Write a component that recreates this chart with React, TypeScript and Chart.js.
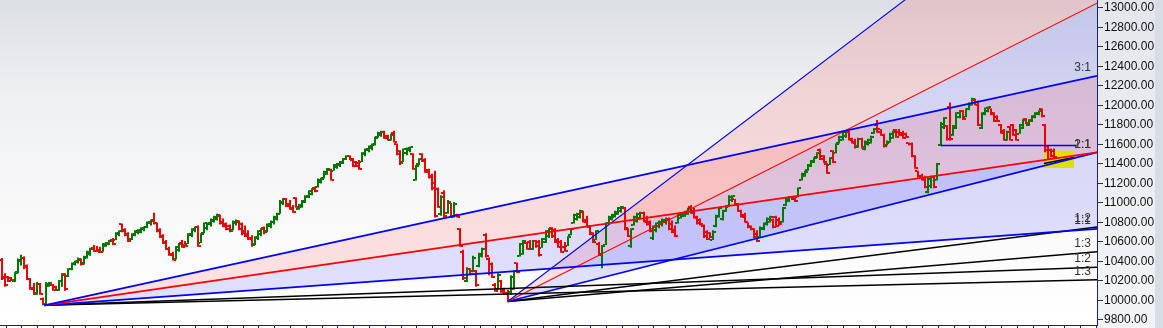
import React, { useEffect, useRef } from "react";
import { Chart, registerables } from "chart.js";

Chart.register(...registerables);

// ---- OHLC data (one entry per trading day) ----
const OPEN = [10420,10240,10240,10230,10200,10290,10410,10440,10350,10220,10130,10070,10170,10020,9960,10150,10160,10140,10110,10200,10260,10250,10320,10370,10390,10420,10380,10440,10480,10540,10510,10520,10500,10560,10580,10620,10620,10680,10780,10720,10680,10630,10670,10700,10700,10730,10750,10790,10830,10790,10720,10660,10600,10530,10480,10430,10520,10590,10570,10580,10670,10720,10750,10590,10690,10740,10780,10820,10840,10870,10800,10780,10760,10720,10790,10810,10780,10710,10680,10640,10580,10640,10680,10740,10710,10760,10800,10840,10890,11000,11040,10990,10950,11050,10940,10960,11010,11060,11090,11150,11160,11220,11260,11300,11340,11330,11370,11390,11410,11450,11480,11440,11420,11410,11420,11500,11540,11560,11590,11680,11700,11730,11690,11650,11720,11600,11530,11420,11510,11540,11500,11240,11400,11500,11440,11340,11280,11200,11140,10890,11100,10900,11000,10860,10880,10730,10500,10200,10320,10300,10300,10350,10460,10670,10430,10370,10160,10120,10200,10110,10080,10090,10120,10380,10460,10480,10590,10600,10530,10610,10600,10540,10600,10660,10740,10720,10620,10600,10550,10560,10670,10790,10840,10860,10910,10830,10750,10690,10620,10580,10470,10570,10790,10840,10860,10890,10920,10950,10730,10560,10770,10820,10850,10900,10820,10800,10640,10720,10760,10780,10800,10840,10780,10720,10790,10850,10870,10890,10960,10920,10860,10830,10760,10700,10690,10620,10760,10860,10840,10920,10960,11030,11040,10990,10920,10880,10800,10760,10730,10680,10650,10730,10780,10810,10830,10860,10830,10800,10980,11020,11060,11050,11060,11240,11280,11340,11380,11420,11470,11540,11480,11400,11390,11530,11510,11620,11650,11690,11730,11660,11630,11580,11660,11550,11600,11620,11720,11800,11760,11700,11590,11620,11670,11750,11730,11720,11710,11620,11610,11480,11330,11280,11260,11110,11170,11270,11240,11590,11780,11790,11980,11700,11770,11880,11940,11880,11960,12010,12060,12040,11770,11910,11940,11970,11920,11880,11800,11740,11650,11780,11800,11750,11710,11770,11860,11800,11840,11880,11910,11960,11800,11580,11540,11530];
const HIGH = [10435,10280,10250,10240,10290,10430,10470,10450,10370,10230,10180,10190,10180,10030,10190,10190,10170,10150,10210,10280,10280,10330,10390,10410,10440,10430,10460,10510,10540,10570,10560,10550,10590,10600,10620,10640,10700,10720,10790,10740,10700,10690,10720,10730,10750,10760,10810,10830,10900,10800,10740,10680,10620,10550,10500,10560,10590,10620,10610,10690,10740,10760,10770,10690,10800,10800,10840,10870,10890,10880,10840,10800,10780,10820,10830,10820,10800,10770,10720,10670,10660,10720,10740,10760,10790,10820,10870,10900,11030,11050,11050,11030,10980,11060,10990,11030,11080,11130,11150,11170,11250,11260,11330,11360,11350,11400,11410,11430,11460,11490,11490,11460,11430,11440,11520,11560,11590,11610,11680,11730,11740,11740,11700,11710,11740,11610,11540,11560,11570,11580,11510,11390,11460,11510,11460,11350,11300,11330,11160,11080,11130,11030,11000,11010,10890,10740,10520,10340,10330,10460,10313,10490,10540,10690,10440,10390,10180,10280,10210,10130,10110,10260,10310,10390,10590,10620,10600,10620,10620,10620,10620,10640,10720,10740,10750,10740,10640,10620,10600,10660,10740,10890,10900,10930,10920,10870,10770,10700,10720,10600,10570,10800,10870,10890,10920,10960,10970,10960,10740,10740,10870,10900,10910,10910,10870,10820,10770,10800,10820,10840,10850,10850,10820,10770,10890,10900,10920,10950,10980,10950,10870,10840,10780,10720,10700,10720,10880,10960,10930,10980,11080,11080,11040,11000,10930,10900,10800,10770,10740,10720,10760,10800,10850,10870,10840,10870,10850,10960,11050,11070,11070,11060,11160,11310,11330,11400,11440,11470,11520,11560,11490,11410,11470,11540,11610,11690,11740,11740,11740,11670,11660,11670,11670,11640,11660,11690,11770,11850,11760,11710,11640,11720,11740,11760,11760,11740,11720,11620,11620,11490,11330,11300,11280,11260,11280,11280,11410,11830,11880,11800,12030,11800,11930,11950,11950,11970,12030,12080,12070,12050,11930,11980,11990,11970,11930,11900,11810,11760,11740,11790,11810,11760,11810,11860,11870,11860,11900,11930,11950,11970,11810,11590,11560,11560];
const LOW = [10210,10140,10190,10200,10190,10280,10360,10320,10210,10110,10060,10060,10060,9950,9950,10140,10100,10100,10100,10140,10100,10240,10310,10360,10380,10360,10370,10430,10460,10500,10500,10490,10500,10550,10570,10570,10620,10660,10700,10660,10600,10620,10660,10680,10690,10710,10740,10770,10780,10700,10640,10580,10520,10460,10410,10420,10500,10540,10550,10580,10650,10700,10550,10590,10690,10720,10760,10800,10820,10780,10750,10720,10700,10720,10770,10720,10670,10650,10620,10550,10570,10620,10660,10680,10700,10740,10780,10820,10890,10980,10960,10930,10900,10950,10930,10950,11000,11050,11080,11110,11160,11200,11250,11290,11230,11330,11350,11370,11400,11440,11440,11370,11370,11340,11420,11480,11520,11540,11590,11670,11680,11660,11640,11640,11620,11490,11390,11420,11490,11520,11340,11230,11390,11420,11310,11250,11130,10850,10950,10870,10850,10890,10850,10850,10850,10550,10210,10190,10260,10290,10140,10340,10440,10440,10260,10230,10090,10110,10080,10060,9990,10060,10110,10280,10450,10470,10520,10520,10520,10540,10450,10540,10590,10640,10640,10590,10540,10490,10500,10560,10670,10790,10820,10840,10800,10750,10670,10590,10620,10460,10330,10570,10790,10820,10850,10880,10900,10720,10650,10540,10770,10800,10830,10800,10770,10700,10620,10700,10740,10760,10780,10720,10690,10650,10790,10840,10860,10880,10890,10840,10780,10770,10640,10620,10640,10620,10750,10850,10820,10910,10960,11010,10970,10910,10850,10800,10740,10720,10640,10600,10650,10720,10770,10800,10740,10750,10770,10800,10970,11010,11030,11010,11060,11230,11270,11330,11370,11410,11460,11440,11410,11300,11390,11410,11510,11610,11640,11670,11640,11610,11560,11570,11560,11540,11590,11610,11710,11720,11690,11570,11590,11620,11660,11670,11690,11660,11670,11590,11470,11350,11260,11230,11150,11100,11150,11150,11230,11590,11760,11640,11640,11690,11760,11870,11850,11880,11950,12000,12000,11790,11760,11900,11930,11900,11830,11830,11710,11640,11640,11640,11690,11640,11710,11760,11810,11790,11830,11870,11900,11880,11520,11440,11470,11460];
const CLOSE = [10230,10160,10200,10210,10280,10420,10440,10340,10220,10120,10080,10170,10070,9960,10170,10180,10110,10110,10200,10270,10120,10320,10380,10400,10430,10370,10450,10500,10530,10510,10500,10500,10580,10590,10610,10580,10690,10710,10710,10670,10610,10680,10710,10720,10740,10750,10800,10820,10790,10710,10650,10590,10530,10470,10420,10550,10580,10550,10560,10680,10730,10750,10560,10680,10790,10790,10830,10860,10880,10790,10760,10730,10710,10810,10820,10730,10690,10660,10630,10570,10650,10710,10730,10700,10780,10810,10860,10890,11010,11040,10970,10940,10910,10960,10980,11020,11070,11120,11140,11120,11240,11250,11320,11350,11240,11390,11400,11420,11450,11480,11450,11380,11380,11350,11510,11550,11580,11600,11670,11720,11730,11670,11650,11700,11630,11500,11410,11550,11560,11570,11350,11380,11450,11430,11320,11270,11150,10870,10960,11060,10870,11010,10870,10990,10860,10560,10230,10320,10270,10440,10160,10480,10530,10460,10280,10240,10100,10260,10090,10070,10010,10240,10300,10290,10580,10610,10530,10530,10610,10560,10470,10630,10710,10730,10660,10600,10550,10500,10510,10650,10730,10880,10890,10920,10810,10760,10680,10600,10710,10480,10560,10790,10860,10880,10910,10950,10960,10740,10660,10730,10860,10890,10900,10810,10780,10710,10760,10790,10810,10830,10840,10730,10700,10660,10880,10890,10910,10940,10900,10850,10790,10780,10660,10630,10650,10700,10870,10950,10920,10970,11060,11070,10980,10920,10860,10810,10750,10730,10650,10610,10740,10790,10840,10860,10750,10760,10780,10950,11040,11060,11040,11020,11150,11300,11320,11390,11430,11460,11510,11450,11420,11310,11460,11420,11600,11680,11730,11730,11650,11620,11570,11660,11570,11630,11650,11680,11760,11730,11700,11580,11630,11710,11730,11680,11700,11670,11680,11600,11480,11360,11270,11240,11160,11250,11270,11160,11400,11810,11870,11660,11660,11790,11920,11940,11860,11960,12020,12070,12010,11800,11920,11970,11980,11910,11840,11840,11720,11650,11730,11650,11700,11650,11800,11850,11820,11850,11890,11920,11940,11890,11540,11450,11480,11470];

// ---- axes ----
const Y_MIN = 9748.7;
const Y_MAX = 13082;
const Y_TICKS = [9800, 10000, 10200, 10400, 10600, 10800, 11000, 11200, 11400, 11600, 11800, 12000, 12200, 12400, 12600, 12800, 13000];
const X_MIN = -0.633;
const X_MAX = 346.5;
const X_TICK_START = 1.3;
const X_TICK_STEP = 5;

// ---- Gann fans: origin and end value at the right edge (X_MAX) ----
const FAN_A_ORIGIN = { x: 13.4, y: 9950 };
const FAN_A_LABELS = ["3:1", "2:1", "1:1", "1:2", "1:3"];
const FAN_A_ENDS = [12303, 11519, 10734, 10342, 10212];
const FAN_B_ORIGIN = { x: 160, y: 9990 };
const FAN_B_LABELS = ["3:1", "2:1", "1:1", "1:2", "1:3"];
const FAN_B_ENDS = [14578, 13049, 11519, 10755, 10500];

// support line and highlighted box
const SUPPORT_X = [297, 340];
const SUPPORT_Y = 11590;
const BOX_X = [329.7, 339.2];
const BOX_Y = [11359, 11536];
const BOX_LINE_Y = [11406, 11467];

const PINK = "rgba(255,0,0,0.115)";
const LAV = "rgba(0,0,255,0.115)";
const FAN_COLORS = ["#0000ff", "#ff0000", "#0000ff", "#000000", "#000000"];

function fanDatasets(origin: { x: number; y: number }, ends: number[], widths: number[]) {
  return ends.map((e, k) => ({
    type: "line" as const,
    data: [
      { x: origin.x, y: origin.y },
      { x: X_MAX, y: e },
    ],
    borderColor: FAN_COLORS[k],
    borderWidth: widths[k],
    pointRadius: 0,
    tension: 0,
    fill: k === 0 || k === 1 ? "+1" : false,
    backgroundColor: k === 0 ? PINK : k === 1 ? LAV : "transparent",
  }));
}

const bgPlugin = {
  id: "bgPaint",
  beforeDraw(chart: any) {
    const { ctx, chartArea: a, width, height } = chart;
    ctx.save();
    ctx.fillStyle = "#ffffff";
    ctx.fillRect(0, 0, width, height);
    const g = ctx.createLinearGradient(0, a.top, 0, a.bottom);
    g.addColorStop(0, "#dcdfe4");
    g.addColorStop(0.3, "#eff0f2");
    g.addColorStop(0.7, "#fafafb");
    g.addColorStop(1, "#ffffff");
    ctx.fillStyle = g;
    ctx.fillRect(a.left, a.top, a.right - a.left, a.bottom - a.top);
    const g2 = ctx.createLinearGradient(0, 0, 0, height);
    g2.addColorStop(0, "#e3e6eb");
    g2.addColorStop(1, "#f3f4f6");
    ctx.fillStyle = g2;
    ctx.fillRect(a.right, 0, width - a.right, height);
    ctx.fillStyle = "#d8dde5";
    ctx.fillRect(width - 8, 0, 8, height);
    ctx.restore();
  },
};

const ohlcPlugin = {
  id: "ohlcBars",
  beforeDatasetsDraw(chart: any) {
    const { ctx, chartArea: a, scales } = chart;
    const xs = scales.x;
    const ys = scales.y;
    ctx.save();
    ctx.beginPath();
    ctx.rect(a.left, a.top, a.right - a.left, a.bottom - a.top);
    ctx.clip();
    // highlight box
    const bx0 = xs.getPixelForValue(BOX_X[0]);
    const bx1 = xs.getPixelForValue(BOX_X[1]);
    const by0 = ys.getPixelForValue(BOX_Y[1]);
    const by1 = ys.getPixelForValue(BOX_Y[0]);
    ctx.fillStyle = "#e0e000";
    ctx.fillRect(bx0, by0, bx1 - bx0, by1 - by0);
    // OHLC bars
    ctx.lineWidth = 2;
    for (let i = 0; i < OPEN.length; i++) {
      const px = Math.round(xs.getPixelForValue(i));
      const up = CLOSE[i] >= OPEN[i];
      ctx.strokeStyle = up ? "#007800" : "#f00000";
      const yh = ys.getPixelForValue(HIGH[i]);
      const yl = ys.getPixelForValue(LOW[i]);
      const yo = Math.round(ys.getPixelForValue(OPEN[i]));
      const yc = Math.round(ys.getPixelForValue(CLOSE[i]));
      ctx.beginPath();
      ctx.moveTo(px, yh);
      ctx.lineTo(px, yl);
      ctx.moveTo(px - 1, yo);
      ctx.lineTo(px - 3, yo);
      ctx.moveTo(px + 1, yc);
      ctx.lineTo(px + 3, yc);
      ctx.stroke();
    }
    ctx.restore();
  },
};

const labelPlugin = {
  id: "fanLabels",
  afterDatasetsDraw(chart: any) {
    const { ctx, chartArea: a, scales } = chart;
    const ys = scales.y;
    ctx.save();
    ctx.font = '12px "Liberation Sans", Arial, sans-serif';
    ctx.fillStyle = "#333333";
    ctx.textAlign = "right";
    ctx.textBaseline = "middle";
    const draw = (labels: string[], ends: number[]) => {
      labels.forEach((t, k) => {
        if (ends[k] > Y_MAX || ends[k] < Y_MIN) return;
        const py = ys.getPixelForValue(ends[k]) - 8;
        ctx.fillText(t, a.right - 6, py);
      });
    };
    draw(FAN_A_LABELS, FAN_A_ENDS);
    draw(FAN_B_LABELS, FAN_B_ENDS);
    ctx.restore();
  },
};

export default function App() {
  const ref = useRef<HTMLCanvasElement>(null);
  useEffect(() => {
    document.body.style.margin = "0";
    const canvas = ref.current;
    if (!canvas) return;
    const datasets: any[] = [
      ...fanDatasets(FAN_A_ORIGIN, FAN_A_ENDS, [1.8, 1.8, 1.8, 1.5, 1.5]),
      ...fanDatasets(FAN_B_ORIGIN, FAN_B_ENDS, [1.1, 1.1, 1.6, 1.5, 1.5]),
      {
        type: "line",
        data: [
          { x: SUPPORT_X[0], y: SUPPORT_Y },
          { x: SUPPORT_X[1], y: SUPPORT_Y },
        ],
        borderColor: "#0000ee",
        borderWidth: 1.6,
        pointRadius: 0,
        fill: false,
      },
      {
        type: "line",
        data: [
          { x: BOX_X[0], y: BOX_LINE_Y[0] },
          { x: BOX_X[1], y: BOX_LINE_Y[1] },
        ],
        borderColor: "#000000",
        borderWidth: 1.5,
        pointRadius: 0,
        fill: false,
      },
    ];
    const chart = new Chart(canvas, {
      type: "line",
      data: { datasets },
      options: {
        animation: false,
        responsive: false,
        devicePixelRatio: 1,
        events: [],
        layout: { padding: 0 },
        plugins: {
          legend: { display: false },
          tooltip: { enabled: false },
          filler: { drawTime: "beforeDatasetsDraw" },
        },
        scales: {
          x: {
            type: "linear",
            min: X_MIN,
            max: X_MAX,
            afterBuildTicks: (s: any) => {
              const t = [];
              for (let v = X_TICK_START; v <= X_MAX; v += X_TICK_STEP) t.push({ value: v });
              s.ticks = t;
            },
            afterFit: (s: any) => {
              s.height = 3;
              s.paddingLeft = 0;
              s.paddingRight = 0;
            },
            grid: { drawOnChartArea: false, drawTicks: true, tickLength: 3, color: "#1a1a70" },
            border: { display: true, color: "#1c1c8a", width: 1 },
            ticks: { display: false },
          },
          y: {
            type: "linear",
            position: "right",
            min: Y_MIN,
            max: Y_MAX,
            afterBuildTicks: (s: any) => {
              s.ticks = Y_TICKS.map((v) => ({ value: v }));
            },
            afterFit: (s: any) => {
              s.width = 66;
              s.paddingTop = 0;
              s.paddingBottom = 0;
            },
            grid: { drawOnChartArea: false, drawTicks: true, tickLength: 6, color: "#333333" },
            border: { display: true, color: "#1c1c8a", width: 1 },
            ticks: {
              autoSkip: false,
              color: "#111111",
              padding: 1,
              font: { family: '"Liberation Sans", Arial, sans-serif', size: 12 },
              callback: (v: any) => Number(v).toFixed(2),
            },
          },
        },
      },
      plugins: [bgPlugin, ohlcPlugin, labelPlugin],
    } as any);
    return () => chart.destroy();
  }, []);
  return (
    <canvas
      ref={ref}
      width={1163}
      height={328}
      style={{ display: "block", width: 1163, height: 328 }}
    />
  );
}
